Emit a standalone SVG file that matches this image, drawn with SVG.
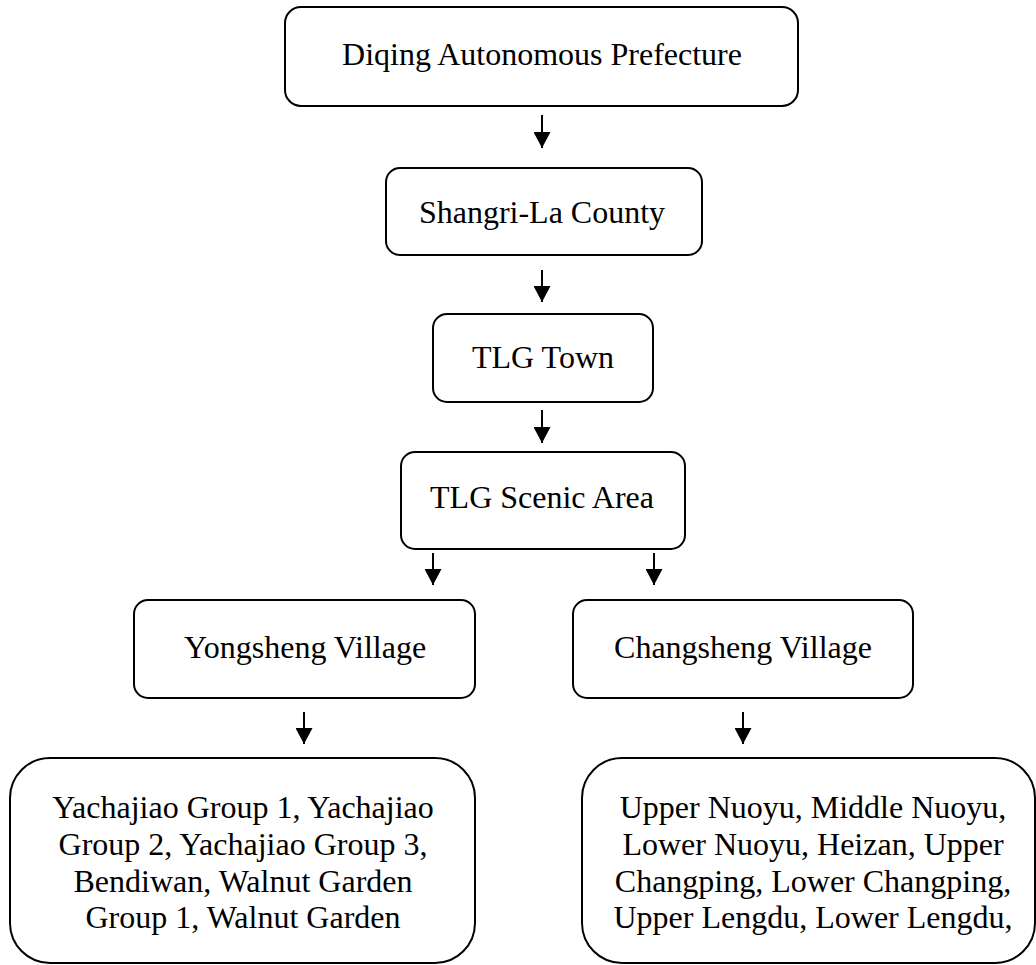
<svg xmlns="http://www.w3.org/2000/svg" width="1036" height="965" viewBox="0 0 1036 965">
<style>
.box{fill:#fff;stroke:#000;stroke-width:2}
.t{font-family:"Liberation Serif","Times New Roman",serif;font-size:32px;fill:#000;text-anchor:middle}
.c{stroke:#000;stroke-width:2;fill:none;marker-end:url(#ah)}
</style>
<defs>
<marker id="ah" markerWidth="16" markerHeight="17" refX="16" refY="8.5" orient="auto" markerUnits="userSpaceOnUse" viewBox="0 0 16 17">
<path d="M0,0 L16,8.5 L0,17 Z" fill="#000"/>
</marker>
</defs>
<rect width="1036" height="965" fill="#fff"/>
<g id="n1"><rect class="box" x="285" y="7" width="513" height="99" rx="16"/><text class="t" x="542" y="65">Diqing Autonomous Prefecture</text></g>
<g id="n2"><rect class="box" x="386" y="168" width="316" height="87" rx="14"/><text class="t" x="542" y="223">Shangri-La County</text></g>
<g id="n3"><rect class="box" x="433" y="314" width="220" height="88" rx="14"/><text class="t" x="543" y="368">TLG Town</text></g>
<g id="n4"><rect class="box" x="401" y="452" width="284" height="97" rx="14"/><text class="t" x="542" y="508">TLG Scenic Area</text></g>
<g id="n5"><rect class="box" x="134" y="600" width="341" height="98" rx="14"/><text class="t" x="305" y="658">Yongsheng Village</text></g>
<g id="n6"><rect class="box" x="573" y="600" width="340" height="98" rx="14"/><text class="t" x="743" y="658">Changsheng Village</text></g>
<g id="n7"><rect class="box" x="10" y="758" width="465" height="205" rx="40"/>
<text class="t" x="243"><tspan x="243" y="818">Yachajiao Group 1, Yachajiao</tspan><tspan x="243" y="855">Group 2, Yachajiao Group 3,</tspan><tspan x="243" y="892">Bendiwan, Walnut Garden</tspan><tspan x="243" y="928">Group 1, Walnut Garden</tspan></text></g>
<g id="n8"><rect class="box" x="582" y="758" width="453" height="205" rx="40"/>
<text class="t" x="813"><tspan x="813" y="818">Upper Nuoyu, Middle Nuoyu,</tspan><tspan x="813" y="855">Lower Nuoyu, Heizan, Upper</tspan><tspan x="813" y="892">Changping, Lower Changping,</tspan><tspan x="813" y="928">Upper Lengdu, Lower Lengdu,</tspan></text></g>
<g id="connectors">
<line class="c" x1="542" y1="115" x2="542" y2="148"/>
<line class="c" x1="542" y1="270" x2="542" y2="302"/>
<line class="c" x1="542" y1="410" x2="542" y2="443"/>
<line class="c" x1="433" y1="553" x2="433" y2="585"/>
<line class="c" x1="654" y1="553" x2="654" y2="585"/>
<line class="c" x1="304" y1="712" x2="304" y2="744"/>
<line class="c" x1="743" y1="712" x2="743" y2="744"/>
</g>
</svg>
